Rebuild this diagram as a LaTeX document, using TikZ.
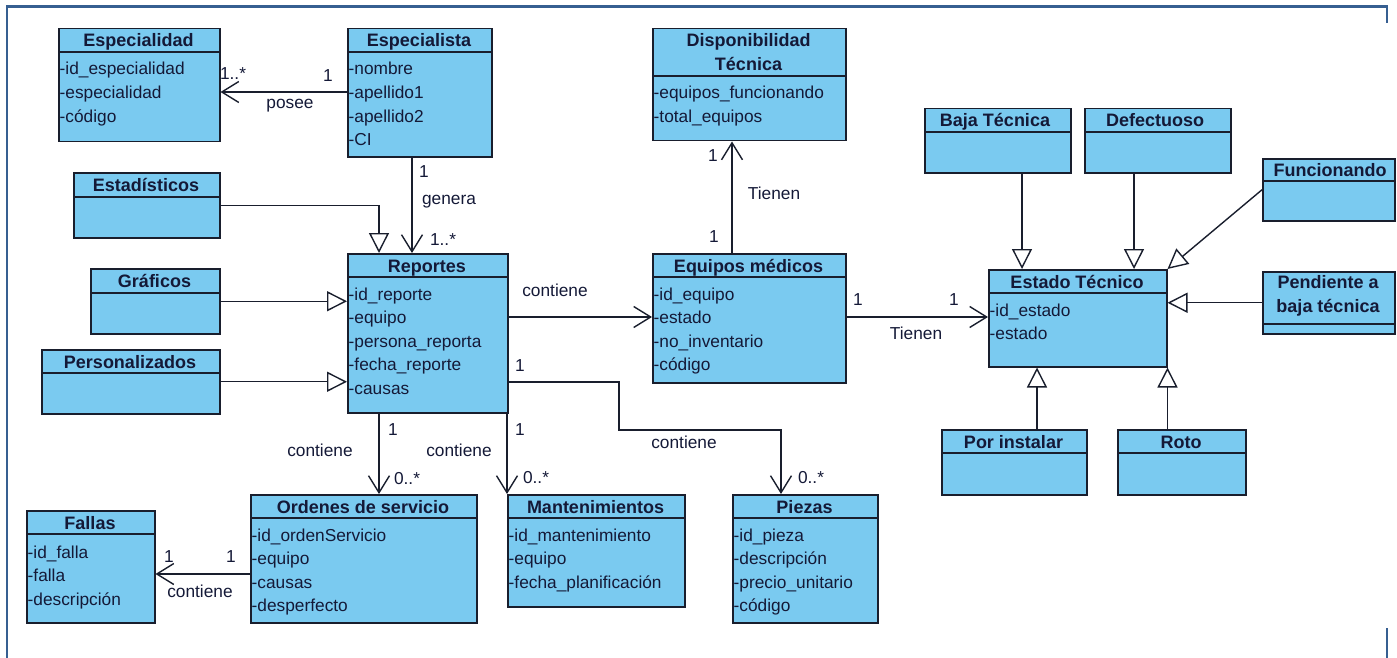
\documentclass[tikz,border=0pt]{standalone}
\usepackage{fontspec}
\setmainfont{Liberation Sans}
\usetikzlibrary{arrows.meta}
\definecolor{boxfill}{RGB}{122,202,240}
\definecolor{boxline}{RGB}{25,30,45}
\definecolor{txt}{RGB}{20,25,55}
\definecolor{framec}{RGB}{54,95,145}

% class box: name, left, top, right, bottom, y of the title separator
\newcommand\umlclass[6]{%
  \node[ubox, minimum width={(#4-#2)*1pt}, minimum height={(#5-#3)*1pt}] (#1) at (#2,#3) {};
  \draw[sepline] (#1.west |- 0,#6) -- (#1.east |- 0,#6);
}
% attribute list: prefix, left, first baseline, items
\newcommand\umlattrs[4]{%
  \foreach \a [count=\i from 0] in {#4} {\node[uattr] (#1-a\i) at (#2+1.5, #3+\i*23.6) {\a};}
}

\begin{document}
\begin{tikzpicture}[x=1pt,y=-1pt,
  ubox/.style={draw=boxline, fill=boxfill, line width=1.5pt, inner sep=0pt, anchor=north west},
  sepline/.style={draw=boxline, line width=1.5pt},
  utitle/.style={anchor=base, inner sep=0pt, text=txt, font=\fontsize{18}{21}\selectfont\bfseries},
  uattr/.style={anchor=base west, inner sep=0pt, text=txt, font=\fontsize{17.3}{20}\selectfont},
  ulabel/.style={inner sep=0pt, text=txt, font=\fontsize{17.3}{20}\selectfont},
  assoc/.style={draw=boxline, line width=1.4pt, -{Straight Barb[length=17pt,width=21pt,line width=1.4pt]}},
  gen/.style={draw=boxline, line width=1.4pt, -{Triangle[open,length=20pt,width=20pt,line width=1.4pt]}},
  pageframe/.style={draw=framec, line width=2.4pt}
]
\useasboundingbox (0,0) rectangle (1397,658);

% page frame
\draw[pageframe] (7,658) -- (7,6.5) -- (1387,6.5) -- (1387,23);
\draw[pageframe] (1387,628) -- (1387,658);

% ---------- classes ----------
\umlclass{espd}{58}{28}{219}{141}{52}
\node[utitle] (espd-t) at (138.5,47) {Especialidad};
\umlattrs{espd}{58}{75}{-id\_especialidad,-especialidad,-código}

\umlclass{espta}{347}{28}{491}{156}{52}
\node[utitle] (espta-t) at (419,47) {Especialista};
\umlattrs{espta}{347}{75}{-nombre,-apellido1,-apellido2,-CI}

\umlclass{disp}{652}{28}{845}{140}{76}
\node[utitle] (disp-t1) at (748.5,47) {Disponibilidad};
\node[utitle] (disp-t2) at (748.5,71) {Técnica};
\umlattrs{disp}{652}{99}{-equipos\_funcionando,-total\_equipos}

\umlclass{estad}{73}{172}{219}{237}{197}
\node[utitle] (estad-t) at (146,191) {Estadísticos};

\umlclass{graf}{90}{268}{219}{333}{293}
\node[utitle] (graf-t) at (154.5,287) {Gráficos};

\umlclass{pers}{41}{349}{219}{413}{373}
\node[utitle] (pers-t) at (130,368) {Personalizados};

\umlclass{rep}{347}{253}{507}{412}{277}
\node[utitle] (rep-t) at (427,272) {Reportes};
\umlattrs{rep}{347}{300}{-id\_reporte,-equipo,-persona\_reporta,-fecha\_reporte,-causas}

\umlclass{eq}{652}{253}{845}{382}{277}
\node[utitle] (eq-t) at (748.5,272) {Equipos médicos};
\umlattrs{eq}{652}{300}{-id\_equipo,-estado,-no\_inventario,-código}

\umlclass{baja}{924}{108}{1070}{172}{132}
\node[utitle] (baja-t) at (995,127) {Baja Técnica};

\umlclass{defe}{1084}{108}{1230}{172}{132}
\node[utitle] (defe-t) at (1155,127) {Defectuoso};

\umlclass{fun}{1262}{158}{1394}{220}{181}
\node[utitle] (fun-t) at (1330,176) {Funcionando};

\umlclass{est}{988}{269}{1166}{366}{293}
\node[utitle] (est-t) at (1077,288) {Estado Técnico};
\umlattrs{est}{988}{316}{-id\_estado,-estado}

\umlclass{pend}{1262}{271}{1394}{333}{324}
\node[utitle] (pend-t1) at (1328,288) {Pendiente a};
\node[utitle] (pend-t2) at (1328,312) {baja técnica};

\umlclass{porin}{941}{429}{1086}{494}{453}
\node[utitle] (porin-t) at (1013.5,448) {Por instalar};

\umlclass{roto}{1117}{429}{1245}{494}{453}
\node[utitle] (roto-t) at (1181,448) {Roto};

\umlclass{fall}{26}{510}{154}{622}{534}
\node[utitle] (fall-t) at (90,529) {Fallas};
\umlattrs{fall}{26}{558}{-id\_falla,-falla,-descripción}

\umlclass{ord}{250}{494}{476}{622}{518}
\node[utitle] (ord-t) at (363,513) {Ordenes de servicio};
\umlattrs{ord}{250}{541}{-id\_ordenServicio,-equipo,-causas,-desperfecto}

\umlclass{mant}{507}{494}{684}{606}{518}
\node[utitle] (mant-t) at (595.5,513) {Mantenimientos};
\umlattrs{mant}{507}{541}{-id\_mantenimiento,-equipo,-fecha\_planificación}

\umlclass{piez}{732}{494}{877}{622}{518}
\node[utitle] (piez-t) at (804.5,513) {Piezas};
\umlattrs{piez}{732}{541}{-id\_pieza,-descripción,-precio\_unitario,-código}

% ---------- associations ----------
\draw[assoc] (espta.west |- 0,92) -- (espd.east |- 0,92);
\node[ulabel] (l-posee-m) at (233,74) {1..*};
\node[ulabel] (l-posee-1) at (328,76) {1};
\node[ulabel] (l-posee) at (290,106) {posee};

\draw[assoc] (espta.south -| 412,0) -- (rep.north -| 412,0);
\node[ulabel] (l-gen-1) at (424,172) {1};
\node[ulabel] (l-gen) at (449,202) {genera};
\node[ulabel] (l-gen-m) at (443,240) {1..*};

\draw[assoc] (rep.east |- 0,317) -- (eq.west |- 0,317);
\node[ulabel] (l-rep-eq) at (555,290) {contiene};

\draw[assoc] (eq.north -| 732,0) -- (disp.south -| 732,0);
\node[ulabel] (l-disp-1) at (713,156) {1};
\node[ulabel] (l-disp) at (774,193) {Tienen};
\node[ulabel] (l-disp-2) at (714,237) {1};

\draw[assoc] (eq.east |- 0,317) -- (est.west |- 0,317);
\node[ulabel] (l-est-1) at (858,300) {1};
\node[ulabel] (l-est) at (916,333) {Tienen};
\node[ulabel] (l-est-2) at (954,300) {1};

\draw[assoc] (rep.east |- 0,382) -| (619,430) -| (piez.north -| 781,0);
\node[ulabel] (l-piez-1) at (520,366) {1};
\node[ulabel] (l-piez) at (684,442) {contiene};
\node[ulabel] (l-piez-m) at (811,478) {0..*};

\draw[assoc] (rep.south -| 507,0) -- (mant.north west);
\node[ulabel] (l-mant-1) at (520,430) {1};
\node[ulabel] (l-mant) at (459,450) {contiene};
\node[ulabel] (l-mant-m) at (536,478) {0..*};

\draw[assoc] (rep.south -| 379,0) -- (ord.north -| 379,0);
\node[ulabel] (l-ord-1) at (393,430) {1};
\node[ulabel] (l-ord) at (320,450) {contiene};
\node[ulabel] (l-ord-m) at (407,479) {0..*};

\draw[assoc] (ord.west |- 0,574) -- (fall.east |- 0,574);
\node[ulabel] (l-fall-1) at (169,557) {1};
\node[ulabel] (l-fall-2) at (231,557) {1};
\node[ulabel] (l-fall) at (200,591) {contiene};

% ---------- generalizations ----------
\draw[gen] (estad.east) -| (rep.north -| 379,0);
\draw[gen] (graf.east) -- (rep.west |- graf.east);
\draw[gen] (pers.east) -- (rep.west |- pers.east);

\draw[gen] (baja.south -| 1022,0) -- (est.north -| 1022,0);
\draw[gen] (defe.south -| 1134,0) -- (est.north -| 1134,0);
\draw[gen] (fun.west) -- (est.north east);
\draw[gen] (pend.west) -- (est.east |- pend.west);
\draw[gen] (porin.north -| 1037,0) -- (est.south -| 1037,0);
\draw[gen] (est.south east |- roto.north) -- (est.south east);

\end{tikzpicture}
\end{document}
